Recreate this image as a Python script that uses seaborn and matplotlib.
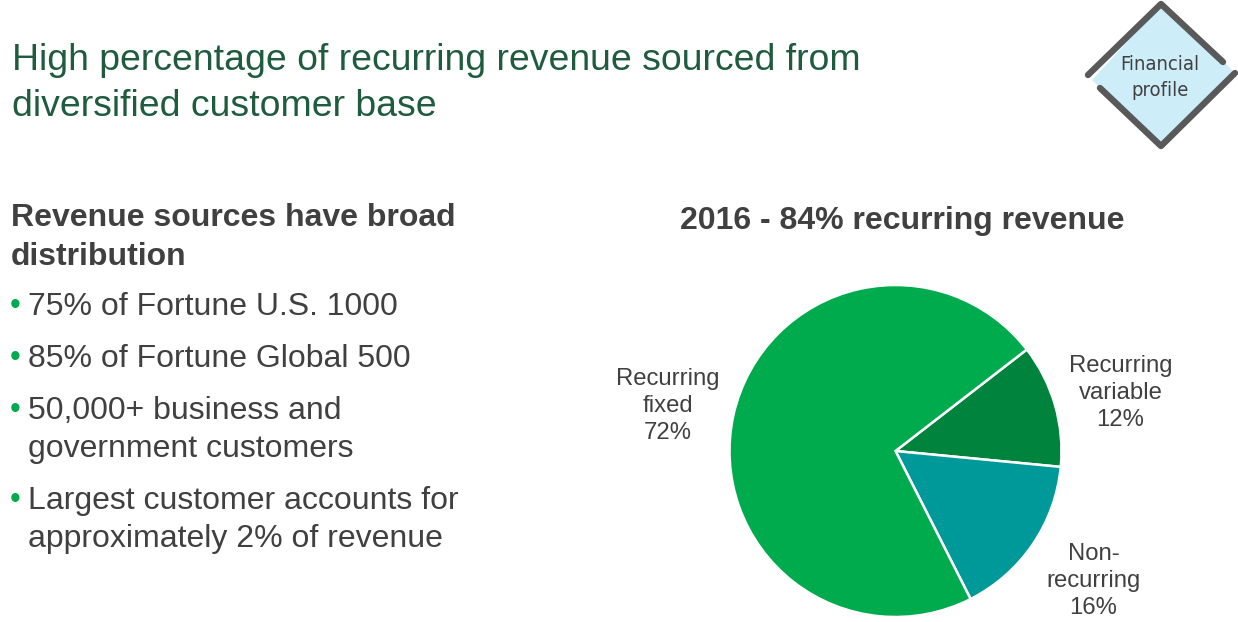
import matplotlib
matplotlib.use("Agg")
import matplotlib.pyplot as plt
import seaborn as sns
from matplotlib.patches import Polygon

sns.set_theme(style="white")
plt.rcParams['font.family'] = ['Liberation Sans', 'DejaVu Sans']

W, H = 1238, 622
labels = ["Recurring\nvariable\n12%", "Non-\nrecurring\n16%", "Recurring\nfixed\n72%"]
values = [12, 16, 72]
colors = ["#00843D", "#009999", "#00AB4E"]
title_lines = ["High percentage of recurring revenue sourced from", "diversified customer base"]
heading_lines = ["Revenue sources have broad", "distribution"]
bullets = [(307, "75% of Fortune U.S. 1000"), (359, "85% of Fortune Global 500"),
           (411, "50,000+ business and"), (501, "Largest customer accounts for")]
conts = [(449, "government customers"), (539, "approximately 2% of revenue")]
chart_title = "2016 - 84% recurring revenue"

fig = plt.figure(figsize=(W/100, H/100), dpi=100, facecolor="white")
bg = fig.add_axes([0, 0, 1, 1])
bg.set_xlim(0, W); bg.set_ylim(H, 0); bg.axis("off")

TC = "#1F5B3F"; DK = "#404040"
for y, s in zip((61, 106), title_lines):
    bg.text(11.5, y, s, fontsize=26.9, color=TC, va="center", ha="left")
for y, s in zip((218, 257), heading_lines):
    bg.text(11, y, s, fontsize=23, color=DK, weight="bold", va="center", ha="left")
for y, s in bullets:
    bg.text(10, y-1, "•", fontsize=22, color="#00AB4E", va="center", ha="left")
    bg.text(28, y, s, fontsize=23, color=DK, va="center", ha="left")
for y, s in conts:
    bg.text(28, y, s, fontsize=23, color=DK, va="center", ha="left")
bg.text(902, 221, chart_title, fontsize=23, color=DK, weight="bold", va="center", ha="center")

# badge
bg.add_patch(Polygon([(1161,5),(1228,66),(1235,73),(1161,146),(1092,80)], closed=True, fc="#CDEDF9", ec="none"))
for seg in ([(1088,75),(1161,4),(1223,62)],[(1100,88),(1161,146),(1235,73)]):
    xs, ys = zip(*seg)
    bg.plot(xs, ys, color="#595959", lw=4.6, solid_capstyle="round", solid_joinstyle="round")
bg.text(1160, 65, "Financial", fontsize=14.5, color=DK, ha="center", va="center",
        family=["DejaVu Sans"], stretch="condensed")
bg.text(1160, 90, "profile", fontsize=14.5, color=DK, ha="center", va="center",
        family=["DejaVu Sans"], stretch="condensed")

# pie: centre (895.5,451), radius 166
cx, cy, r = 895.5, 451, 166
ax = fig.add_axes([(cx-r)/W, 1-(cy+r)/H, 2*r/W, 2*r/H])
ax.pie(values, colors=colors, startangle=37.7, counterclock=False, radius=1,
       wedgeprops=dict(edgecolor="white", linewidth=1.8))
ax.set_xlim(-1, 1); ax.set_ylim(-1, 1)
ax.set_aspect("equal")
for (x, y), s in zip([(1120.5, 393), (1093.5, 581), (667.5, 406)], labels):
    bg.text(x, y, s, fontsize=17.2, color=DK, ha="center", va="center", linespacing=1.27)

fig.savefig("out.png", dpi=100)
